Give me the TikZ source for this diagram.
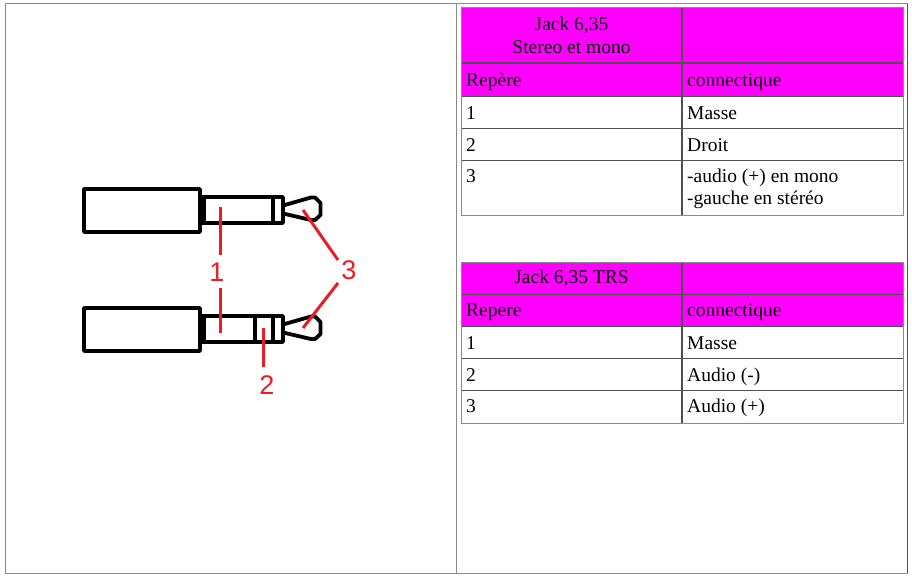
\documentclass[tikz,border=0pt]{standalone}
\usepackage{fontspec}
\setmainfont{Liberation Serif}
\newfontfamily\lblfont{Liberation Sans}
\definecolor{mag}{HTML}{FF00FF}
\definecolor{pred}{HTML}{ED1C24}
\definecolor{frame}{HTML}{8A8A8A}
\definecolor{grid}{HTML}{505050}
\begin{document}
\begin{tikzpicture}[x=1pt,y=-1pt,
  jk/.style={line width=3.8pt,black,line join=round},
  rl/.style={line width=3pt,pred},
  lbl/.style={text=pred,font=\lblfont\fontsize{27}{29}\selectfont,inner sep=0pt},
  cell/.style={anchor=base west,inner sep=0pt,font=\fontsize{19.5}{22}\selectfont},
  ccell/.style={anchor=base,inner sep=0pt,font=\fontsize{19.5}{22}\selectfont},
  tline/.style={line width=1pt,grid},
  tframe/.style={line width=1pt,frame}]
\useasboundingbox (0,0) rectangle (912,578);
% outer frame
\draw[line width=1pt,frame] (5.5,4) rectangle (907,573);
\draw[line width=1pt,grid] (907,4) -- (907,573);
\draw[line width=1pt,frame] (456,4) -- (456,573);

% ---------- jacks ----------
\foreach \dy in {0,119}{
  \begin{scope}[shift={(0,\dy)}]
    \draw[jk] (84,189) rectangle (200,232);
    \draw[jk] (200,197) rectangle (283,223);
    \fill (200,197) rectangle (206,223);
    \draw[jk] (273,197) -- (273,223);
    \draw[jk] (283,205.5) -- (311,197.5) -- (315,197.5) -- (320.5,203) -- (320.5,215) -- (315,220) -- (311,220) -- (283,213.5);
  \end{scope}
}
\draw[jk] (255,316) -- (255,342);

% labels
\node[lbl] (l1) at (217,272) {1};
\node[lbl] (l2) at (267,385) {2};
\node[lbl] (l3) at (349,270) {3};
\coordinate (a1) at (220,207);
\coordinate (b1) at (220,333);
\coordinate (a2) at (263,328);
\coordinate (a3) at (303,210);
\coordinate (b3) at (303,328);
\draw[rl] (a1) -- (220,255);
\draw[rl] (220,288) -- (b1);
\draw[rl] (a2) -- (263,367);
\draw[rl] (a3) -- (338,260);
\draw[rl] (338,283) -- (b3);

% ---------- table 1 ----------
\fill[mag] (461,8) rectangle (903,96);
\draw[tline] (461,63) -- (903,63);
\draw[tline] (461,96) -- (903,96);
\draw[tline] (461,128) -- (903,128);
\draw[tline] (461,160) -- (903,160);
\draw[line width=2pt,grid] (682,8) -- (682,215);
\draw[tframe] (461,8) rectangle (903,215);
\node[ccell] (t1h1) at (571.5,30.7) {Jack 6,35};
\node[ccell] (t1h2) at (571.5,54) {Stereo et mono};
\node[cell] (t1r1a) at (466,86) {Repère};
\node[cell] (t1r1b) at (687,86) {connectique};
\node[cell] (t1r2a) at (466,119) {1};
\node[cell] (t1r2b) at (687,119) {Masse};
\node[cell] (t1r3a) at (466,151) {2};
\node[cell] (t1r3b) at (687,151) {Droit};
\node[cell] (t1r4a) at (466,182.7) {3};
\node[cell] (t1r4b) at (687,182.7) {-audio (+) en mono};
\node[cell] (t1r4c) at (687,204.5) {-gauche en stéréo};

% ---------- table 2 ----------
\fill[mag] (461,262) rectangle (903,326);
\draw[tline] (461,294) -- (903,294);
\draw[tline] (461,326) -- (903,326);
\draw[tline] (461,358) -- (903,358);
\draw[tline] (461,390) -- (903,390);
\draw[line width=2pt,grid] (682,262) -- (682,423);
\draw[tframe] (461,262) rectangle (903,423);
\node[ccell] (t2h1) at (571.5,283.3) {Jack 6,35 TRS};
\node[cell] (t2r1a) at (466,316.7) {Repere};
\node[cell] (t2r1b) at (687,316.7) {connectique};
\node[cell] (t2r2a) at (466,349) {1};
\node[cell] (t2r2b) at (687,349) {Masse};
\node[cell] (t2r3a) at (466,381) {2};
\node[cell] (t2r3b) at (687,381) {Audio (-)};
\node[cell] (t2r4a) at (466,412.7) {3};
\node[cell] (t2r4b) at (687,412.7) {Audio (+)};
\end{tikzpicture}
\end{document}
